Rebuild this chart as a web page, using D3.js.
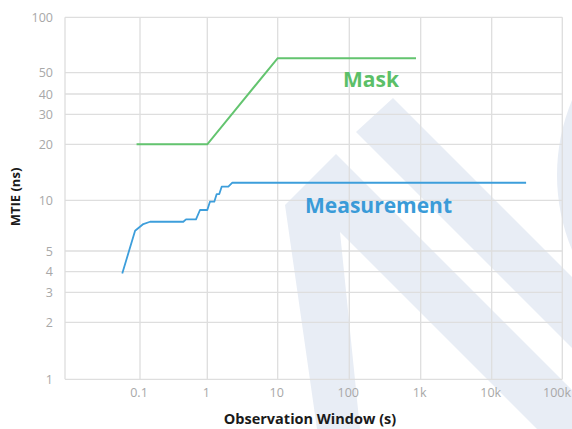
<!DOCTYPE html>
<html>
<head>
<meta charset="utf-8">
<script src="https://cdn.jsdelivr.net/npm/d3@7/dist/d3.min.js"></script>
<style>
  html, body { margin: 0; padding: 0; background: #fff; }
  svg { display: block; }
</style>
</head>
<body>
<svg id="chart" width="572" height="429"></svg>
<script>
// ---- data ----
const xTicks = [0.1, 1, 10, 100, 1000, 10000, 100000];
const xTickLabels = ["0.1", "1", "10", "100", "1k", "10k", "100k"];
const yTicks = [1, 2, 3, 4, 5, 10, 20, 30, 40, 50, 100];
const yTickLabels = ["1", "2", "3", "4", "5", "10", "20", "30", "40", "50", "100"];

const maskX = [0.09, 1, 10, 860];
const maskY = [20, 20, 60, 60];

const measX = [0.058, 0.086, 0.112, 0.141, 0.44, 0.483, 0.679, 0.779, 1.0, 1.09, 1.257, 1.36, 1.48, 1.60, 1.99, 2.27, 30700];
const measY = [3.9, 6.6, 7.23, 7.46, 7.46, 7.71, 7.71, 8.76, 8.76, 9.81, 9.81, 10.8, 10.8, 11.83, 11.83, 12.43, 12.43];

// ---- layout ----
const svg = d3.select("#chart");
const W = 572, H = 429;

const x = d3.scaleLog()
  .domain([0.01, 0.1, 1, 10, 100, 1000, 10000, 100000])
  .range([65, 140, 207.3, 277.7, 349.3, 420.7, 491.7, 562.3]);
const y = d3.scaleLog()
  .domain([1, 2, 3, 4, 5, 10, 20, 30, 40, 50, 100])
  .range([379.3, 322.3, 292.3, 271.7, 251, 200.3, 144.3, 114.3, 94, 72.7, 17.3]);

// ---- watermark ----
const wm = svg.append("g").attr("fill", "#e8edf5");
wm.append("path").attr("d",
  "M285,205 L336,154 L611,429 L537,429 L340,232 L360,429 L317,429 Z");
wm.append("path").attr("d",
  "M356,132 L393,98 L572,277 L572,348 Z");
wm.append("circle").attr("cx", 752).attr("cy", 175).attr("r", 195);

// ---- grid ----
const grid = svg.append("g").attr("stroke", "#dedede").attr("stroke-width", 1.3).attr("fill", "none");
const [x0, x1] = [x(0.01), x(100000)];
const [yb, yt] = [y(1), y(100)];
grid.selectAll("line.v").data(xTicks).enter().append("line")
  .attr("x1", d => x(d)).attr("x2", d => x(d)).attr("y1", yt).attr("y2", yb);
grid.selectAll("line.h").data(yTicks).enter().append("line")
  .attr("x1", x0).attr("x2", x1).attr("y1", d => y(d)).attr("y2", d => y(d));
grid.append("line").attr("x1", x0).attr("x2", x0).attr("y1", yt).attr("y2", yb);

// ---- tick labels ----
const tickFont = "'Open Sans', sans-serif";
svg.append("g").selectAll("text").data(yTicks).enter().append("text")
  .attr("x", 53).attr("y", d => y(d) + 4.5)
  .attr("text-anchor", "end")
  .attr("font-family", tickFont).attr("font-size", 12.5)
  .attr("fill", "#a8a8a8")
  .text((d, i) => yTickLabels[i]);
const last = xTicks.length - 1;
svg.append("g").selectAll("text").data(xTicks).enter().append("text")
  .attr("x", (d, i) => i === last ? W - 1 : x(d) - 1).attr("y", 397)
  .attr("text-anchor", (d, i) => i === last ? "end" : "middle")
  .attr("font-family", tickFont).attr("font-size", 12.5)
  .attr("fill", "#a8a8a8")
  .text((d, i) => xTickLabels[i]);

// ---- axis titles ----
svg.append("text")
  .attr("x", 310).attr("y", 424)
  .attr("text-anchor", "middle")
  .attr("font-family", tickFont).attr("font-weight", "bold").attr("font-size", 14.5)
  .attr("fill", "#1a1a1a")
  .text("Observation Window (s)");
svg.append("text")
  .attr("transform", "translate(20,197) rotate(-90)")
  .attr("text-anchor", "middle")
  .attr("font-family", tickFont).attr("font-weight", "bold").attr("font-size", 13)
  .attr("fill", "#1a1a1a")
  .text("MTIE (ns)");

// ---- lines ----
const line = d3.line().x(d => x(d[0])).y(d => y(d[1]));
svg.append("path")
  .datum(maskX.map((v, i) => [v, maskY[i]]))
  .attr("d", line)
  .attr("fill", "none").attr("stroke", "#63c46f").attr("stroke-width", 2);
svg.append("path")
  .datum(measX.map((v, i) => [v, measY[i]]))
  .attr("d", line)
  .attr("fill", "none").attr("stroke", "#3d9edb").attr("stroke-width", 1.8)
  .attr("stroke-linejoin", "round");

// ---- series labels ----
svg.append("text")
  .attr("x", 343).attr("y", 87)
  .attr("font-family", tickFont).attr("font-weight", "bold").attr("font-size", 21)
  .attr("fill", "#5cbf68")
  .text("Mask");
svg.append("text")
  .attr("x", 305).attr("y", 213)
  .attr("font-family", tickFont).attr("font-weight", "bold").attr("font-size", 21)
  .attr("fill", "#3a9bd8")
  .text("Measurement");
</script>
</body>
</html>
